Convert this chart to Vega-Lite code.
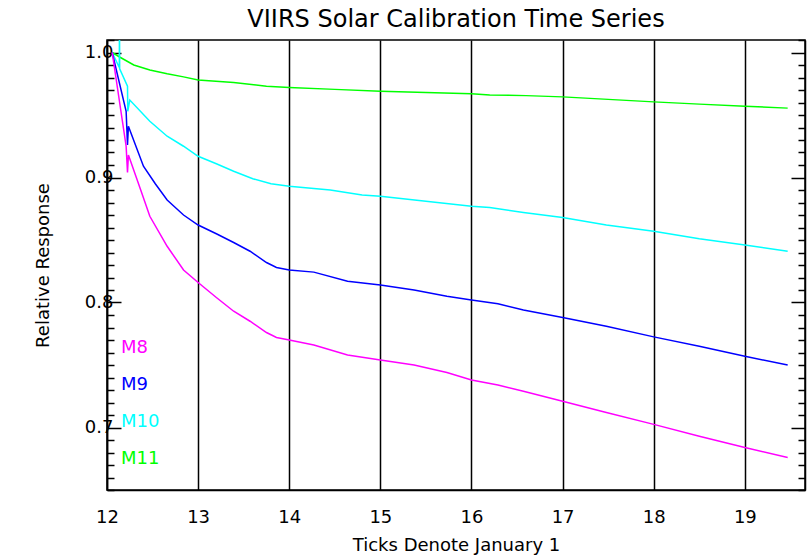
{
  "$schema": "https://vega.github.io/schema/vega-lite/v6.json",
  "width": 698,
  "height": 450,
  "autosize": {"type": "none"},
  "padding": {"left": 107, "top": 40, "right": 5, "bottom": 67},
  "background": "white",
  "config": {
    "font": "DejaVu Sans",
    "view": {"stroke": "black", "strokeWidth": 1.5},
    "axis": {"labelFont": "DejaVu Sans", "titleFont": "DejaVu Sans", "labelColor": "black", "titleColor": "black", "domainColor": "black", "tickColor": "black", "labelFontSize": 18, "titleFontSize": 18, "titleFontWeight": "normal"}
  },
  "title": {"text": "VIIRS Solar Calibration Time Series", "fontSize": 24, "fontWeight": "normal", "font": "DejaVu Sans", "color": "black", "anchor": "middle", "frame": "group", "offset": 7},
  "data": {"values": [
    {"band": "M11", "day": 12.057, "resp": 1.0},
    {"band": "M11", "day": 12.148, "resp": 0.996},
    {"band": "M11", "day": 12.294, "resp": 0.990},
    {"band": "M11", "day": 12.47, "resp": 0.986},
    {"band": "M11", "day": 12.66, "resp": 0.983},
    {"band": "M11", "day": 12.84, "resp": 0.9805},
    {"band": "M11", "day": 13.0, "resp": 0.978},
    {"band": "M11", "day": 13.39, "resp": 0.976},
    {"band": "M11", "day": 13.75, "resp": 0.973},
    {"band": "M11", "day": 14.0, "resp": 0.972},
    {"band": "M11", "day": 14.5, "resp": 0.9705},
    {"band": "M11", "day": 15.0, "resp": 0.969},
    {"band": "M11", "day": 15.5, "resp": 0.968},
    {"band": "M11", "day": 16.0, "resp": 0.967},
    {"band": "M11", "day": 16.2, "resp": 0.966},
    {"band": "M11", "day": 16.6, "resp": 0.9655},
    {"band": "M11", "day": 17.0, "resp": 0.9645},
    {"band": "M11", "day": 17.5, "resp": 0.9625},
    {"band": "M11", "day": 18.0, "resp": 0.9605},
    {"band": "M11", "day": 18.5, "resp": 0.9587},
    {"band": "M11", "day": 19.0, "resp": 0.957},
    {"band": "M11", "day": 19.47, "resp": 0.9555},

    {"band": "M10", "day": 12.057, "resp": 1.0},
    {"band": "M10", "day": 12.135, "resp": 0.988},
    {"band": "M10", "day": 12.137, "resp": 1.03},
    {"band": "M10", "day": 12.139, "resp": 0.987},
    {"band": "M10", "day": 12.225, "resp": 0.973},
    {"band": "M10", "day": 12.228, "resp": 0.953},
    {"band": "M10", "day": 12.25, "resp": 0.962},
    {"band": "M10", "day": 12.47, "resp": 0.945},
    {"band": "M10", "day": 12.66, "resp": 0.933},
    {"band": "M10", "day": 12.84, "resp": 0.925},
    {"band": "M10", "day": 13.0, "resp": 0.917},
    {"band": "M10", "day": 13.2, "resp": 0.911},
    {"band": "M10", "day": 13.39, "resp": 0.905},
    {"band": "M10", "day": 13.6, "resp": 0.899},
    {"band": "M10", "day": 13.8, "resp": 0.895},
    {"band": "M10", "day": 14.0, "resp": 0.893},
    {"band": "M10", "day": 14.45, "resp": 0.890},
    {"band": "M10", "day": 14.8, "resp": 0.886},
    {"band": "M10", "day": 15.0, "resp": 0.885},
    {"band": "M10", "day": 15.5, "resp": 0.881},
    {"band": "M10", "day": 16.0, "resp": 0.877},
    {"band": "M10", "day": 16.2, "resp": 0.876},
    {"band": "M10", "day": 16.57, "resp": 0.872},
    {"band": "M10", "day": 17.0, "resp": 0.868},
    {"band": "M10", "day": 17.48, "resp": 0.862},
    {"band": "M10", "day": 18.0, "resp": 0.857},
    {"band": "M10", "day": 18.5, "resp": 0.851},
    {"band": "M10", "day": 19.0, "resp": 0.846},
    {"band": "M10", "day": 19.47, "resp": 0.841},

    {"band": "M9", "day": 12.057, "resp": 1.0},
    {"band": "M9", "day": 12.21, "resp": 0.953},
    {"band": "M9", "day": 12.225, "resp": 0.926},
    {"band": "M9", "day": 12.235, "resp": 0.941},
    {"band": "M9", "day": 12.24, "resp": 0.940},
    {"band": "M9", "day": 12.40, "resp": 0.909},
    {"band": "M9", "day": 12.53, "resp": 0.895},
    {"band": "M9", "day": 12.66, "resp": 0.882},
    {"band": "M9", "day": 12.84, "resp": 0.870},
    {"band": "M9", "day": 13.0, "resp": 0.862},
    {"band": "M9", "day": 13.2, "resp": 0.855},
    {"band": "M9", "day": 13.39, "resp": 0.848},
    {"band": "M9", "day": 13.57, "resp": 0.841},
    {"band": "M9", "day": 13.75, "resp": 0.832},
    {"band": "M9", "day": 13.86, "resp": 0.828},
    {"band": "M9", "day": 14.0, "resp": 0.826},
    {"band": "M9", "day": 14.27, "resp": 0.8243},
    {"band": "M9", "day": 14.64, "resp": 0.817},
    {"band": "M9", "day": 15.0, "resp": 0.814},
    {"band": "M9", "day": 15.37, "resp": 0.810},
    {"band": "M9", "day": 15.73, "resp": 0.805},
    {"band": "M9", "day": 16.0, "resp": 0.802},
    {"band": "M9", "day": 16.29, "resp": 0.799},
    {"band": "M9", "day": 16.57, "resp": 0.794},
    {"band": "M9", "day": 17.0, "resp": 0.788},
    {"band": "M9", "day": 17.48, "resp": 0.781},
    {"band": "M9", "day": 18.0, "resp": 0.7725},
    {"band": "M9", "day": 18.5, "resp": 0.765},
    {"band": "M9", "day": 19.0, "resp": 0.757},
    {"band": "M9", "day": 19.47, "resp": 0.750},

    {"band": "M8", "day": 12.057, "resp": 1.0},
    {"band": "M8", "day": 12.21, "resp": 0.925},
    {"band": "M8", "day": 12.225, "resp": 0.904},
    {"band": "M8", "day": 12.235, "resp": 0.918},
    {"band": "M8", "day": 12.24, "resp": 0.917},
    {"band": "M8", "day": 12.37, "resp": 0.890},
    {"band": "M8", "day": 12.47, "resp": 0.869},
    {"band": "M8", "day": 12.66, "resp": 0.845},
    {"band": "M8", "day": 12.84, "resp": 0.826},
    {"band": "M8", "day": 13.0, "resp": 0.816},
    {"band": "M8", "day": 13.2, "resp": 0.804},
    {"band": "M8", "day": 13.39, "resp": 0.793},
    {"band": "M8", "day": 13.57, "resp": 0.785},
    {"band": "M8", "day": 13.75, "resp": 0.776},
    {"band": "M8", "day": 13.86, "resp": 0.772},
    {"band": "M8", "day": 14.0, "resp": 0.770},
    {"band": "M8", "day": 14.27, "resp": 0.766},
    {"band": "M8", "day": 14.64, "resp": 0.758},
    {"band": "M8", "day": 15.0, "resp": 0.754},
    {"band": "M8", "day": 15.37, "resp": 0.750},
    {"band": "M8", "day": 15.73, "resp": 0.744},
    {"band": "M8", "day": 16.0, "resp": 0.738},
    {"band": "M8", "day": 16.29, "resp": 0.734},
    {"band": "M8", "day": 16.57, "resp": 0.729},
    {"band": "M8", "day": 17.0, "resp": 0.721},
    {"band": "M8", "day": 17.48, "resp": 0.712},
    {"band": "M8", "day": 18.0, "resp": 0.7025},
    {"band": "M8", "day": 18.5, "resp": 0.693},
    {"band": "M8", "day": 19.0, "resp": 0.684},
    {"band": "M8", "day": 19.47, "resp": 0.676}
  ]},
  "encoding": {
    "x": {"field": "day", "type": "quantitative", "scale": {"domain": [12, 19.66], "nice": false, "zero": false}},
    "color": {"field": "band", "type": "nominal", "scale": {"domain": ["M8", "M9", "M10", "M11"], "range": ["#FF00FF", "#0000FF", "#00FFFF", "#00FF00"]},
      "legend": {"orient": "none", "legendX": -4, "legendY": 299, "title": null, "direction": "vertical", "symbolSize": 0, "symbolStrokeWidth": 0, "symbolOpacity": 0, "labelOffset": 0, "padding": 0, "rowPadding": 19, "labelFontSize": 18, "labelFont": "DejaVu Sans", "encode": {"labels": {"update": {"fill": {"scale": "color", "field": "value"}}}}}},
    "detail": {"field": "band", "type": "nominal"}
  },
  "layer": [
    {
      "mark": {"type": "line", "strokeWidth": 1.5, "clip": true},
      "encoding": {
        "x": {"field": "day", "type": "quantitative", "scale": {"domain": [12, 19.66], "nice": false, "zero": false},
          "axis": {"values": [12, 13, 14, 15, 16, 17, 18, 19], "grid": true, "gridColor": "black", "gridWidth": 1.5, "gridOpacity": 1, "ticks": false, "domainWidth": 1.5, "labelFlush": false, "labelPadding": 18, "title": "Ticks Denote January 1", "titlePadding": 10, "format": "d"}},
        "y": {"field": "resp", "type": "quantitative", "scale": {"domain": [0.65, 1.01], "nice": false, "zero": false},
          "axis": {"orient": "left", "values": [0.7, 0.8, 0.9, 1.0], "format": ".1f", "tickSize": -14, "tickWidth": 1.5, "domainWidth": 1.5, "grid": false, "labelFlush": false, "labelPadding": 8, "title": "Relative Response", "titlePadding": 32}}
      }
    },
    {
      "mark": {"type": "line", "opacity": 0, "clip": true},
      "encoding": {
        "y": {"field": "resp", "type": "quantitative",
          "axis": {"orient": "left", "values": [0.65, 0.66, 0.67, 0.68, 0.69, 0.71, 0.72, 0.73, 0.74, 0.75, 0.76, 0.77, 0.78, 0.79, 0.81, 0.82, 0.83, 0.84, 0.85, 0.86, 0.87, 0.88, 0.89, 0.91, 0.92, 0.93, 0.94, 0.95, 0.96, 0.97, 0.98, 0.99, 1.01], "labels": false, "domain": false, "tickSize": -7, "tickWidth": 1.5, "grid": false, "title": null}}
      }
    },
    {
      "mark": {"type": "line", "opacity": 0, "clip": true},
      "encoding": {
        "y": {"field": "resp", "type": "quantitative",
          "axis": {"orient": "right", "values": [0.7, 0.8, 0.9, 1.0], "labels": false, "domainWidth": 1.5, "tickSize": -14, "tickWidth": 1.5, "grid": false, "title": null}}
      }
    },
    {
      "mark": {"type": "line", "opacity": 0, "clip": true},
      "encoding": {
        "y": {"field": "resp", "type": "quantitative",
          "axis": {"orient": "right", "values": [0.65, 0.66, 0.67, 0.68, 0.69, 0.71, 0.72, 0.73, 0.74, 0.75, 0.76, 0.77, 0.78, 0.79, 0.81, 0.82, 0.83, 0.84, 0.85, 0.86, 0.87, 0.88, 0.89, 0.91, 0.92, 0.93, 0.94, 0.95, 0.96, 0.97, 0.98, 0.99, 1.01], "labels": false, "domain": false, "tickSize": -7, "tickWidth": 1.5, "grid": false, "title": null}}
      }
    }
  ],
  "resolve": {"axis": {"y": "independent"}}
}
